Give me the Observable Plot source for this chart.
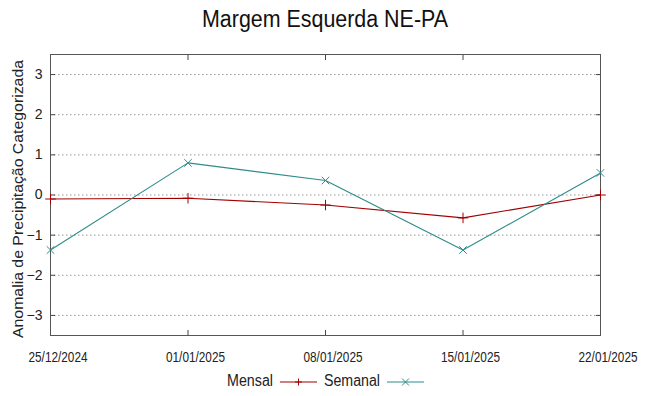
<!DOCTYPE html>
<html><head><meta charset="utf-8">
<script src="https://cdn.jsdelivr.net/npm/d3@7"></script>
<script src="https://cdn.jsdelivr.net/npm/@observablehq/plot@0.6"></script>
<style>
body{margin:0;background:#fff;font-family:"Liberation Sans",Arial,sans-serif;}
svg{display:block;}
</style></head><body>
<div id="title"></div>
<div id="chart"></div>
<div id="legend"></div>
<script>
const titleText = "Margem Esquerda NE-PA";
const dates = ["2024-12-25","2025-01-01","2025-01-08","2025-01-15","2025-01-22"];
const mensal = [-0.1, -0.08, -0.25, -0.57, 0.0];
const semanal = [-1.37, 0.8, 0.36, -1.37, 0.55];
const yTicks = [-3, -2, -1, 0, 1, 2, 3];
const seriesNames = ["Mensal", "Semanal"];
const seriesColors = ["#a00000", "#2e8b8b"];
const seriesSymbols = ["plus", "times"];
const yLabel = "Anomalia de Precipitação Categorizada";

const parse = d3.utcParse("%Y-%m-%d");
const fmt = d3.utcFormat("%d/%m/%Y");
const xDates = dates.map(parse);
const rows = [];
[mensal, semanal].forEach((vals, s) => vals.forEach((v, i) => rows.push({date: xDates[i], value: v, series: seriesNames[s]})));

// title
d3.select("#title").append("svg").attr("width", 648).attr("height", 40)
  .append("text").attr("x", 325).attr("y", 26.7).attr("text-anchor", "middle")
  .attr("font-size", 23).attr("fill", "#111")
  .attr("textLength", 246).attr("lengthAdjust", "spacingAndGlyphs")
  .text(titleText);

const chart = Plot.plot({
  width: 648, height: 330,
  marginTop: 14, marginBottom: 35, marginLeft: 50, marginRight: 48,
  style: {fontFamily: "Liberation Sans, Arial, sans-serif", fontSize: "14px", color: "#222", background: "#fff"},
  x: {type: "utc", domain: [xDates[0], xDates[xDates.length - 1]], ticks: xDates, tickFormat: fmt},
  y: {domain: [-3.5, 3.5], ticks: yTicks},
  color: {domain: seriesNames, range: seriesColors},
  marks: [
    Plot.gridY(yTicks, {stroke: "#999", strokeOpacity: 1, strokeDasharray: "1.5,2.5"}),
    Plot.axisY(yTicks, {anchor: "left", tickSize: 0, tickPadding: 8, fontSize: 14, label: null}),
    Plot.axisY(yTicks, {anchor: "left", tickSize: -5, text: null, label: null, stroke: "#444"}),
    Plot.axisY(yTicks, {anchor: "right", tickSize: -5, text: null, label: null, stroke: "#444"}),
    Plot.axisX(xDates, {anchor: "bottom", tickSize: 0, tickPadding: 17, fontSize: 14, dx: 7.5, label: null, tickFormat: fmt}),
    Plot.axisX(xDates, {anchor: "bottom", tickSize: -5, text: null, label: null, stroke: "#444"}),
    Plot.axisX(xDates, {anchor: "top", tickSize: -5, text: null, label: null, stroke: "#444"}),
    Plot.frame({stroke: "#555", strokeWidth: 1}),
    Plot.line(rows, {x: "date", y: "value", z: "series", stroke: "series", strokeWidth: 1.1}),
    Plot.dot(rows, {x: "date", y: "value", symbol: d => seriesSymbols[seriesNames.indexOf(d.series)], stroke: "series", r: 3.5, strokeWidth: 1})
  ]
});
document.getElementById("chart").appendChild(chart);

// condensed x tick labels
d3.select(chart).selectAll("g[aria-label='x-axis tick label'] text")
  .attr("textLength", 59).attr("lengthAdjust", "spacingAndGlyphs");

// y axis label
d3.select(chart).append("text")
  .attr("transform", "translate(19," + (199 - 40) + ") rotate(-90)")
  .attr("text-anchor", "middle").attr("dominant-baseline", "middle")
  .attr("font-size", 15.5).attr("fill", "#222")
  .attr("textLength", 278).attr("lengthAdjust", "spacingAndGlyphs")
  .text(yLabel);

// legend
const leg = d3.select("#legend").append("svg").attr("width", 648).attr("height", 26);
const items = [
  {text: seriesNames[0], right: 273, w: 46, line: [280, 317]},
  {text: seriesNames[1], right: 380, w: 56, line: [387, 424]}
];
const cy = 12;
items.forEach((it, i) => {
  leg.append("text").attr("x", it.right).attr("y", cy).attr("text-anchor", "end")
    .attr("dominant-baseline", "middle").attr("font-size", 16).attr("fill", "#222")
    .attr("textLength", it.w).attr("lengthAdjust", "spacingAndGlyphs").text(it.text);
  leg.append("line").attr("x1", it.line[0]).attr("x2", it.line[1]).attr("y1", cy).attr("y2", cy)
    .attr("stroke", seriesColors[i]).attr("stroke-width", 1.1);
  const cx = (it.line[0] + it.line[1]) / 2;
  const r = 3.5;
  const d = seriesSymbols[i] === "plus"
    ? `M${cx - r},${cy}H${cx + r}M${cx},${cy - r}V${cy + r}`
    : `M${cx - r},${cy - r}L${cx + r},${cy + r}M${cx - r},${cy + r}L${cx + r},${cy - r}`;
  leg.append("path").attr("d", d).attr("stroke", seriesColors[i]).attr("fill", "none");
});
</script>
</body></html>
